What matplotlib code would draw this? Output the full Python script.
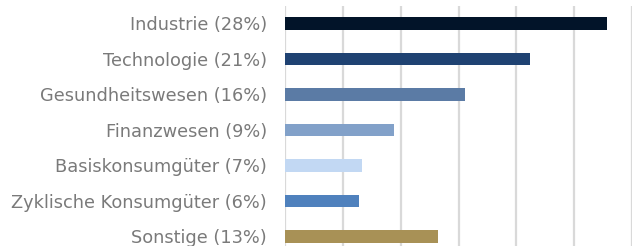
import matplotlib.pyplot as plt

# sector weights (%)
sectors = ["Industrie (28%)", "Technologie (21%)", "Gesundheitswesen (16%)",
           "Finanzwesen (9%)", "Basiskonsumgüter (7%)",
           "Zyklische Konsumgüter (6%)", "Sonstige (13%)"]
weights = [27.9, 21.2, 15.6, 9.4, 6.6, 6.4, 13.2]
colors = ["#021429", "#1f4272", "#5b7ba5", "#82a1c9",
          "#c2d8f3", "#4f81bd", "#a89156"]

fig = plt.figure(figsize=(6.4, 2.46), dpi=100)
ax = fig.add_axes([285.3 / 640, 0, (631.7 - 285.3) / 640, (246 - 5.7) / 246])

y = list(range(len(sectors)))
ax.barh(y, weights, height=0.36, color=colors, zorder=2)

ax.set_xlim(0, 30)
ax.set_ylim(6.27, -0.5)
ax.set_xticks(range(0, 31, 5))
ax.xaxis.grid(True, color="#d9d9d9", linewidth=1.6, zorder=0)
ax.tick_params(axis="x", length=0, labelbottom=False)
ax.tick_params(axis="y", length=0, pad=13)
ax.set_yticks(y)
ax.set_yticklabels(sectors, fontsize=12.8, color="#7a7a7a", family="DejaVu Sans")
for s in ax.spines.values():
    s.set_visible(False)

fig.savefig("out.png", dpi=100)
